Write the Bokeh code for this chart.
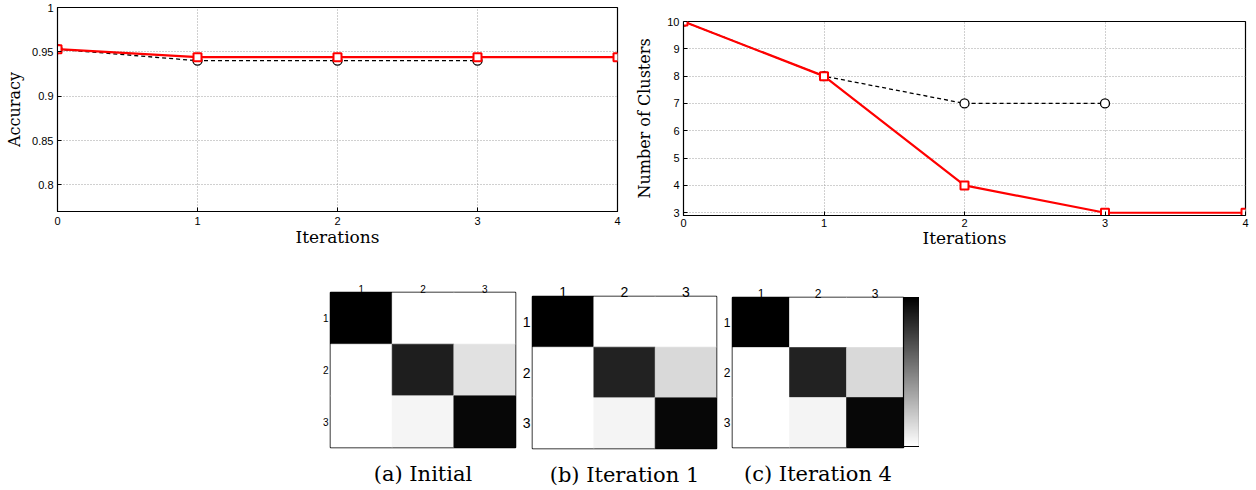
from bokeh.plotting import figure
from bokeh.models import (Range1d, LinearAxis, FixedTicker, LinearColorMapper,
                          ColorBar, Spacer, ColumnDataSource)
from bokeh.layouts import row, column
from bokeh.palettes import Greys256
from bokeh.embed import file_html
from bokeh.resources import INLINE

# ---------------- data ----------------
iterations = [0, 1, 2, 3, 4]
iter_ticks = [0, 1, 2, 3, 4]
iter_tick_labels = ["0", "1", "2", "3", "4"]

acc_red = [0.953, 0.944, 0.944, 0.944, 0.944]
acc_black_x = [0, 1, 2, 3]
acc_black = [0.953, 0.940, 0.940, 0.940]
acc_ticks = [0.8, 0.85, 0.9, 0.95, 1.0]
acc_tick_labels = ["0.8", "0.85", "0.9", "0.95", "1"]

clu_red = [10, 8, 4, 3, 3]
clu_black_x = [0, 1, 2, 3]
clu_black = [10, 8, 7, 7]
clu_ticks = [3, 4, 5, 6, 7, 8, 9, 10]
clu_tick_labels = ["3", "4", "5", "6", "7", "8", "9", "10"]

class_ids = [1, 2, 3]
class_labels = ["1", "2", "3"]
conf_initial = [[1.00, 0.00, 0.00],
                [0.00, 0.88, 0.12],
                [0.00, 0.04, 0.97]]
conf_iter1 = [[1.00, 0.00, 0.00],
              [0.00, 0.865, 0.15],
              [0.00, 0.045, 0.97]]
conf_iter4 = [[1.00, 0.00, 0.00],
              [0.00, 0.865, 0.15],
              [0.00, 0.045, 0.97]]
captions = ["(a) Initial", "(b) Iteration 1", "(c) Iteration 4"]

SANS = "Liberation Sans"
SERIF = "DejaVu Serif"


def line_fig(width, height, mb, yr, yticks, ylabels, ylabel, y_label_standoff,
             x_std, x_lab_std):
    p = figure(width=width, height=height, output_backend="svg", toolbar_location=None,
               x_range=Range1d(0, 4), y_range=Range1d(*yr), frame_align=False,
               min_border_left=mb[0], min_border_right=mb[1],
               min_border_top=mb[2], min_border_bottom=mb[3])
    p.outline_line_color = "black"
    p.outline_line_width = 1.2
    for ax in (p.xaxis[0], p.yaxis[0]):
        ax.axis_line_color = "black"
        ax.major_tick_in = 4
        ax.major_tick_out = 0
        ax.minor_tick_line_color = None
        ax.major_label_text_font = SANS
        ax.major_label_text_font_size = "11px"
        ax.major_label_text_color = "black"
        ax.axis_label_text_font = SERIF
        ax.axis_label_text_font_size = "16px"
        ax.axis_label_text_color = "black"
        ax.axis_label_text_font_style = "normal"
        ax.major_label_standoff = 4
    p.xaxis.ticker = FixedTicker(ticks=iter_ticks)
    p.xaxis.major_label_overrides = dict(zip(iter_ticks, iter_tick_labels))
    p.xaxis.axis_label = "Iterations"
    p.xaxis.axis_label_text_font_size = "17px"
    p.xaxis.major_label_standoff = x_std
    p.xaxis.axis_label_standoff = x_lab_std
    p.yaxis.ticker = FixedTicker(ticks=yticks)
    p.yaxis.major_label_overrides = dict(zip(yticks, ylabels))
    p.yaxis.axis_label = ylabel
    p.yaxis.axis_label_standoff = y_label_standoff
    for g in (p.xgrid[0], p.ygrid[0]):
        g.grid_line_color = "#a0a0a0"
        g.grid_line_dash = "1 2"
        g.grid_line_width = 1
    p.xgrid.ticker = FixedTicker(ticks=iter_ticks)
    p.ygrid.ticker = FixedTicker(ticks=yticks)
    return p


# ---------------- top-left: accuracy ----------------
p1 = line_fig(627, 250, (57, 10, 7, 39), (0.77, 1.0), acc_ticks, acc_tick_labels,
              "Accuracy", 5, 5, -1)
p1.line(acc_black_x, acc_black, line_color="black", line_width=1.3, line_dash="4 3")
p1.scatter(acc_black_x, acc_black, marker="circle", size=9, fill_color="white",
           line_color="black", line_width=1.3)
p1.line(iterations, acc_red, line_color="red", line_width=2.2)
p1.scatter(iterations, acc_red, marker="square", size=8, fill_color="white",
           line_color="red", line_width=2)

# ---------------- top-right: clusters ----------------
p2 = line_fig(623, 252, (56, 5, 21, 37), (2.9, 10.0), clu_ticks, clu_tick_labels,
              "Number of Clusters", 10, 3, -2)
p2.line(clu_black_x, clu_black, line_color="black", line_width=1.3, line_dash="4 3")
p2.scatter(clu_black_x, clu_black, marker="circle", size=9, fill_color="white",
           line_color="black", line_width=1.3)
p2.line(iterations, clu_red, line_color="red", line_width=2.2)
p2.scatter(iterations, clu_red, marker="square", size=8, fill_color="white",
           line_color="red", line_width=2)

# ---------------- heatmaps ----------------
mapper = LinearColorMapper(palette=list(reversed(Greys256)), low=0, high=1)


def heat_fig(mat, caption, fw, fh, mb, tick_size):
    p = figure(frame_width=fw, frame_height=fh, output_backend="svg", toolbar_location=None,
               x_range=Range1d(0.5, 3.5), y_range=Range1d(3.5, 0.5),
               x_axis_location=None, y_axis_location=None, frame_align=False,
               min_border_left=mb[0], min_border_right=mb[1],
               min_border_top=mb[2], min_border_bottom=mb[3])
    p.grid.visible = False
    p.outline_line_color = "black"
    p.outline_line_width = 1.5
    xs, ys, vs = [], [], []
    for i, r in enumerate(class_ids):
        for j, c in enumerate(class_ids):
            xs.append(c)
            ys.append(r)
            vs.append(mat[i][j])
    src = ColumnDataSource(dict(x=xs, y=ys, v=vs))
    p.rect(x="x", y="y", width=1, height=1, source=src,
           fill_color={"field": "v", "transform": mapper},
           line_color={"field": "v", "transform": mapper}, line_width=0.6)
    top = LinearAxis(ticker=FixedTicker(ticks=class_ids), major_tick_in=0, major_tick_out=0,
                     minor_tick_line_color=None, axis_line_color=None,
                     major_label_standoff=0, major_label_text_font=SANS,
                     major_label_text_font_size=tick_size, major_label_text_color="black",
                     major_label_overrides=dict(zip(class_ids, class_labels)))
    p.add_layout(top, "above")
    left = LinearAxis(ticker=FixedTicker(ticks=class_ids), major_tick_in=0, major_tick_out=0,
                      minor_tick_line_color=None, axis_line_color=None,
                      major_label_standoff=2, major_label_text_font=SANS,
                      major_label_text_font_size=tick_size, major_label_text_color="black",
                      major_label_overrides=dict(zip(class_ids, class_labels)))
    p.add_layout(left, "left")
    bottom = LinearAxis(ticker=FixedTicker(ticks=[]), major_tick_in=0, major_tick_out=0,
                        minor_tick_line_color=None, axis_line_color=None,
                        major_label_standoff=0,
                        axis_label=caption, axis_label_text_font=SERIF,
                        axis_label_text_font_size="21px", axis_label_text_color="black",
                        axis_label_text_font_style="normal",
                        axis_label_standoff=14)
    p.add_layout(bottom, "below")
    return p


ha = heat_fig(conf_initial, captions[0], 185, 155, (20, 2, 40, 42), "10px")
hb = heat_fig(conf_iter1, captions[1], 184, 152, (15, 2, 44, 41), "14px")
hc = heat_fig(conf_iter4, captions[2], 171, 150, (14, 2, 45, 42), "12px")
cb = ColorBar(color_mapper=mapper, width=16, height=149, padding=0, margin=5,
              bar_line_color="black", bar_line_width=1.2,
              ticker=FixedTicker(ticks=[]), major_tick_line_color=None,
              label_standoff=0)
hc.add_layout(cb, "right")

top_row = row(p1, p2)
bottom_row = row(Spacer(width=310, height=237), ha, hb, hc)
layout = column(top_row, bottom_row)

open("out.html", "w").write(file_html(layout, INLINE))
